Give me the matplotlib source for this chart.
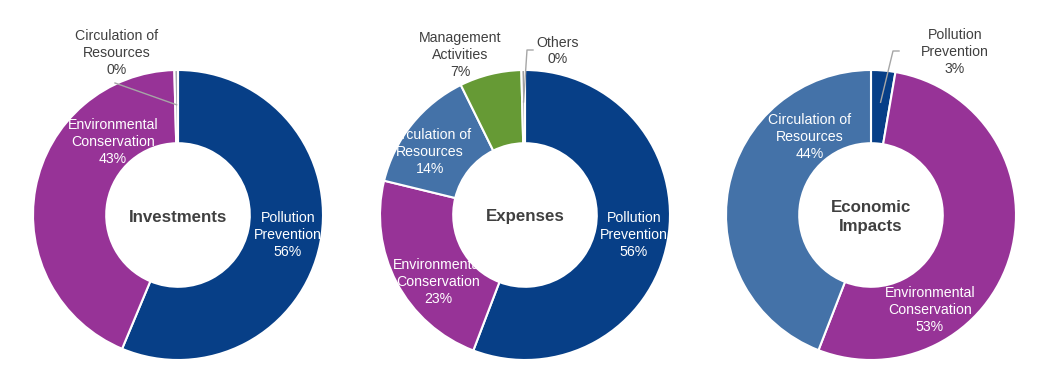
import matplotlib
matplotlib.use("Agg")
import matplotlib.pyplot as plt
import numpy as np

plt.rcParams['font.family'] = ['Liberation Sans', 'DejaVu Sans']

# ---- data ----
inv_labels = ["Pollution\nPrevention", "Environmental\nConservation", "Circulation of\nResources"]
inv_values = [56.3, 43.3, 0.4]
inv_colors = ["#073F87", "#973397", "#A3A7AE"]

exp_labels = ["Pollution\nPrevention", "Environmental\nConservation", "Circulation of\nResources",
              "Management\nActivities", "Others"]
exp_values = [55.8, 23.0, 13.9, 6.9, 0.4]
exp_colors = ["#073F87", "#973397", "#4472A8", "#669A35", "#9C9C9C"]

eco_labels = ["Pollution\nPrevention", "Environmental\nConservation", "Circulation of\nResources"]
eco_values = [2.7, 53.2, 44.1]
eco_colors = ["#073F87", "#973397", "#4472A8"]

titles = ["Investments", "Expenses", "Economic\nImpacts"]

W, H = 1046, 384
fig = plt.figure(figsize=(W / 100, H / 100), dpi=100)
ax = fig.add_axes([0, 0, 1, 1])
ax.set_xlim(0, W)
ax.set_ylim(0, H)
ax.set_aspect('equal')
ax.axis('off')

R = 145
centers = [(178, H - 215), (525, H - 215), (871, H - 215)]
datasets = [(inv_labels, inv_values, inv_colors),
            (exp_labels, exp_values, exp_colors),
            (eco_labels, eco_values, eco_colors)]

# label placement: index -> (x, y pixel from top, inside?)
label_pos = [
    {0: (288, 235, True), 1: (113, 142, True), 2: (117, 53, False)},
    {0: (634, 235, True), 1: (438, 282, True), 2: (430, 152, True), 3: (460, 55, False), 4: (558, 51, False)},
    {0: (955, 52, False), 1: (930, 310, True), 2: (810, 137, True)},
]
# leader lines: index -> (elbow x, y from top, end x)
leaders = [
    {2: None},
    {4: (527, 50, 533)},
    {0: (893, 51, 899)},
]

for k, ((labels, values, colors), (cx, cy)) in enumerate(zip(datasets, centers)):
    wedges, _ = ax.pie(values, colors=colors, startangle=90, counterclock=False,
                       radius=R, center=(cx, cy),
                       wedgeprops=dict(width=R * 0.505, edgecolor='white', linewidth=1.5),
                       frame=True)
    total = sum(values)
    for i, (lab, v) in enumerate(zip(labels, values)):
        x, y, inside = label_pos[k][i]
        pct = round(v / total * 100)
        ax.text(x, H - y, f"{lab}\n{pct}%", ha='center', va='center', fontsize=10.2,
                color='white' if inside else '#404040', linespacing=1.25)
    for i, spec in leaders[k].items():
        w = wedges[i]
        ang = np.deg2rad((w.theta1 + w.theta2) / 2)
        rr = R * 0.76 if spec is None else R * 0.78
        sx, sy = cx + rr * np.cos(ang), cy + rr * np.sin(ang)
        if spec is None:
            ax.plot([sx, 115], [sy, H - 83], color='#A6A6A6', lw=1)
        else:
            ex, ey, tx = spec
            ax.plot([sx, ex, tx], [sy, H - ey, H - ey], color='#A6A6A6', lw=1)
    ax.text(cx, cy - 2, titles[k], ha='center', va='center', fontsize=12.2,
            fontweight='bold', color='#404040', linespacing=1.35)

ax.set_xlim(0, W)
ax.set_ylim(0, H)
ax.axis('off')
fig.savefig("out.png", dpi=100)
